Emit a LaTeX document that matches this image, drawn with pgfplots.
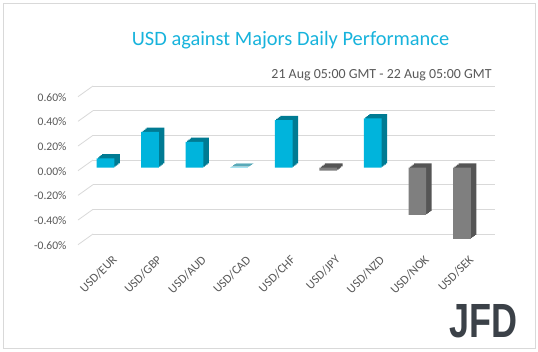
\documentclass[border=0pt]{standalone}
\usepackage{pgfplots}
\pgfplotsset{compat=1.18}
\usepackage{pgfplotstable}
\usepackage{fontspec}
\setmainfont{Carlito}
\newfontfamily\logofont{Liberation Sans}
\definecolor{cyanF}{HTML}{00B4DC}
\definecolor{cyanD}{HTML}{007B93}
\definecolor{grayF}{HTML}{7F7F7F}
\definecolor{grayD}{HTML}{555555}
\definecolor{gridc}{HTML}{D9D9D9}
\definecolor{txt}{HTML}{595959}
\definecolor{titlec}{HTML}{17B3DC}
\definecolor{logoc}{HTML}{3B4148}

% USD against majors, daily performance (%)
\pgfplotstableread{
x v
0 0.076
1 0.290
2 0.210
3 0.003
4 0.386
6 0.400
}\posdata
\pgfplotstableread{
x v
5 -0.024
7 -0.383
8 -0.577
}\negdata

\pgfplotsset{
  barbase/.style={
    scale only axis, width=401pt, height=148.2pt,
    xmin=-0.5, xmax=8.5, ymin=-0.6, ymax=0.6,
    axis line style={draw=none}, clip=false,
    anchor=south west,
    ybar, bar width=17.7pt,
    xtick=\empty, ytick=\empty, major tick length=0pt, tick style={draw=none},
  },
}
\newcommand{\shadowaxis}[2]{%
\begin{axis}[barbase, at={(83.2pt+#1,109.2pt+#2)}]
\addplot[fill=cyanD, draw=none, bar shift=0pt] table[x=x,y=v]{\posdata};
\addplot[fill=grayD, draw=none, bar shift=0pt] table[x=x,y=v]{\negdata};
\end{axis}}

\begin{document}
\begin{tikzpicture}
\useasboundingbox (0,0) rectangle (538pt,351pt);
\fill[white] (0,0) rectangle (538pt,351pt);
\draw[gridc, line width=0.8pt] (3pt,3pt) rectangle (535pt,348pt);

% back wall with gridlines and tick labels
\begin{axis}[scale only axis, width=402pt, height=148pt, at={(93pt,117pt)}, anchor=south west,
  xmin=0, xmax=1, ymin=-0.6, ymax=0.6, axis line style={draw=none}, xtick=\empty,
  ytick={-0.6,-0.4,-0.2,0,0.2,0.4,0.6},
  ymajorgrids, major grid style={gridc, line width=0.8pt},
  yticklabels={-0.60\%,-0.40\%,-0.20\%,0.00\%,0.20\%,0.40\%,0.60\%},
  yticklabel style={anchor=east, inner sep=0pt, xshift=-26.3pt, yshift=-11.3pt, text=txt,
    font=\fontsize{11.6}{12}\selectfont},
  major tick length=0pt, tick style={draw=none}, clip=false]
\pgfplotsinvokeforeach{-0.6,-0.4,-0.2,0,0.2,0.4,0.6}{
  \draw[gridc, line width=0.8pt] (axis cs:0,#1) -- ++(-15pt,-10.7pt);
}
\end{axis}

% depth of the bars
\shadowaxis{1.4pt}{1.05pt}
\shadowaxis{2.75pt}{2.1pt}
\shadowaxis{4.1pt}{3.15pt}
\shadowaxis{5.5pt}{4.2pt}

% front faces
\begin{axis}[barbase, at={(83.2pt,109.2pt)},
  xtick={0,...,8},
  xticklabels={USD/EUR,USD/GBP,USD/AUD,USD/CAD,USD/CHF,USD/JPY,USD/NZD,USD/NOK,USD/SEK},
  xticklabel style={rotate=45, anchor=east, inner sep=0pt, text=txt,
    font=\fontsize{12.3}{13}\selectfont, xshift=-4.5pt, yshift=-18pt}]
\addplot[fill=cyanF, draw=none, bar shift=0pt] table[x=x,y=v]{\posdata};
\addplot[fill=grayF, draw=none, bar shift=0pt] table[x=x,y=v]{\negdata};
\end{axis}

\node[anchor=base west, inner sep=0pt, text=titlec, font=\fontsize{20.4}{24}\selectfont]
  at (131.7pt,305pt) {USD against Majors Daily Performance};
\node[anchor=base east, inner sep=0pt, text=txt, font=\fontsize{13.9}{16}\selectfont]
  at (491.7pt,272.7pt) {21 Aug 05:00 GMT - 22 Aug 05:00 GMT};
\node[anchor=south west, inner sep=0pt, text=logoc]
  at (449pt,13pt) {\resizebox{68pt}{33pt}{\logofont\bfseries JFD}};
\end{tikzpicture}
\end{document}
